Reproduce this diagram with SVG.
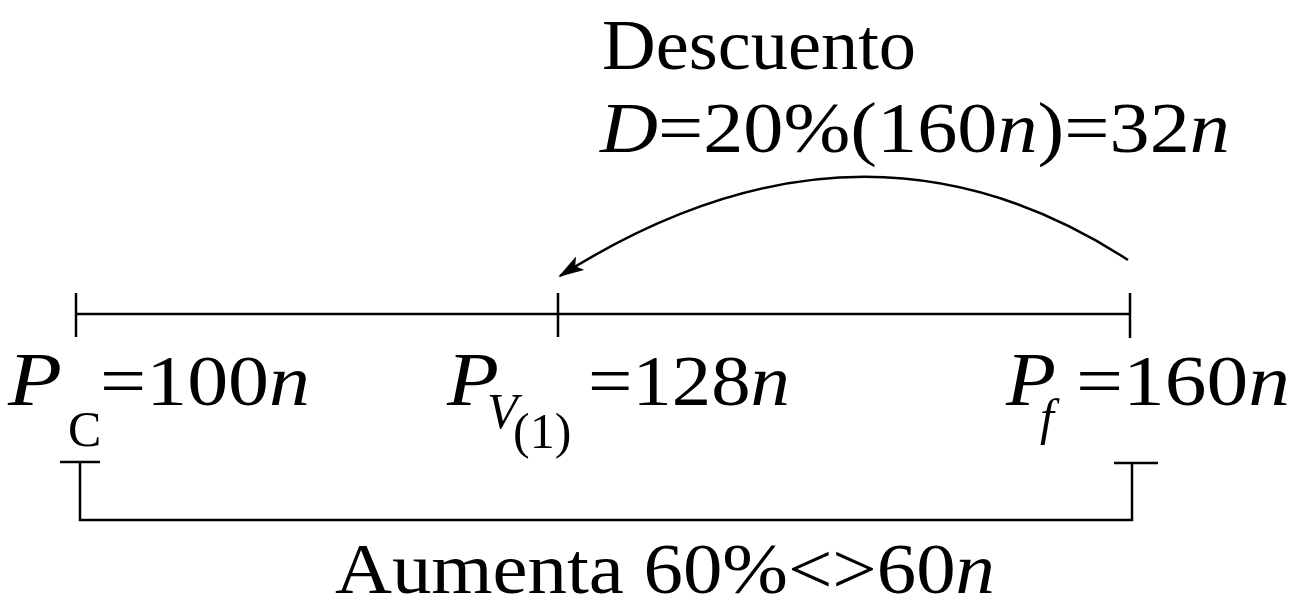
<svg xmlns="http://www.w3.org/2000/svg" width="1296" height="609" viewBox="0 0 1296 609">
<style>
text{font-family:"Liberation Serif","Times New Roman",serif;fill:#000;font-size:72px}
.i{font-style:italic}
.p{font-style:italic;font-size:76px}
.s{font-size:50px}
.ln{stroke:#000;stroke-width:2.5;fill:none}
</style>
<defs>
<marker id="ah" markerWidth="26" markerHeight="16" refX="24" refY="8" orient="auto" markerUnits="userSpaceOnUse"><path d="M0,0 L26,8 L0,16 L6,8 Z" fill="#000"/></marker>
</defs>
<rect width="1296" height="609" fill="#fff"/>
<g id="connectors">
<line class="ln" x1="76" y1="314" x2="1130" y2="314"/>
<line class="ln" x1="76" y1="293" x2="76" y2="337"/>
<line class="ln" x1="558" y1="293" x2="558" y2="337"/>
<line class="ln" x1="1130" y1="293" x2="1130" y2="338"/>
<path class="ln" d="M1128,260 Q860,86 560,276" marker-end="url(#ah)"/>
<path class="ln" d="M60,462 H100 M80,462 V520 H1132 V462 M1114,463 H1158"/>
</g>
<g id="descuento">
<text x="602" y="69" textLength="314" lengthAdjust="spacingAndGlyphs">Descuento</text>
<text x="600" y="152" textLength="630" lengthAdjust="spacingAndGlyphs"><tspan class="i">D</tspan>=20%(160<tspan class="i">n</tspan>)=32<tspan class="i">n</tspan></text>
</g>
<g id="pc">
<text x="8" y="405" class="p" textLength="54" lengthAdjust="spacingAndGlyphs">P</text>
<text x="68" y="446" class="s">C</text>
<text x="100" y="405" textLength="210" lengthAdjust="spacingAndGlyphs">=100<tspan class="i">n</tspan></text>
</g>
<g id="pv">
<text x="447" y="405" class="p" textLength="52" lengthAdjust="spacingAndGlyphs">P</text>
<text x="487" y="428" class="s i">V</text>
<text x="513" y="448" class="s">(1)</text>
<text x="588" y="405" textLength="202" lengthAdjust="spacingAndGlyphs">=128<tspan class="i">n</tspan></text>
</g>
<g id="pf">
<text x="1006" y="405" class="p" textLength="50" lengthAdjust="spacingAndGlyphs">P</text>
<text x="1040" y="434" class="s i">f</text>
<text x="1076" y="405" textLength="214" lengthAdjust="spacingAndGlyphs">=160<tspan class="i">n</tspan></text>
</g>
<g id="aumenta">
<text x="335" y="593" textLength="660" lengthAdjust="spacingAndGlyphs">Aumenta 60%&lt;&gt;60<tspan class="i">n</tspan></text>
</g>
</svg>
